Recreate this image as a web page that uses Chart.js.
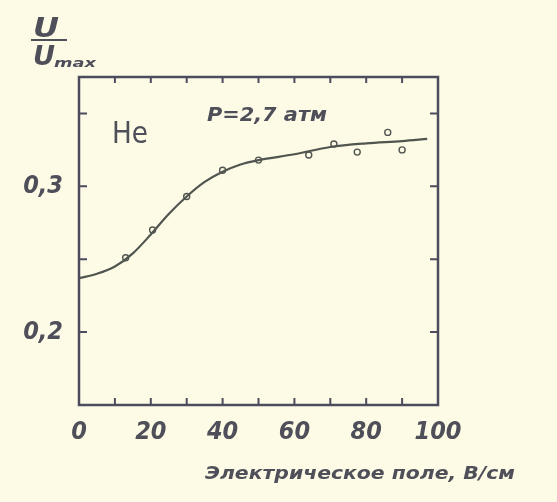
<!DOCTYPE html>
<html>
<head>
<meta charset="utf-8">
<script src="https://cdn.jsdelivr.net/npm/chart.js@4"></script>
<style>
  html, body { margin: 0; padding: 0; background: #fdfbe6; }
  #wrap { width: 557px; height: 502px; }
</style>
</head>
<body>
<div id="wrap"><canvas id="chart" width="557" height="502"></canvas></div>
<script>
// measured points (field, V/cm -> U/Umax)
const pointX = [13, 20.5, 30, 40, 50, 64, 71, 77.5, 86, 90];
const pointY = [0.251, 0.270, 0.293, 0.311, 0.318, 0.3215, 0.329, 0.3235, 0.337, 0.325];

// smooth fitted curve
const curveX = [0, 5, 10, 15, 20, 25, 30, 35, 40, 45, 50, 60, 70, 80, 90, 97];
const curveY = [0.237, 0.240, 0.245, 0.254, 0.267, 0.281, 0.293, 0.303, 0.310, 0.315, 0.318, 0.322, 0.327, 0.3295, 0.331, 0.3325];

// axis ticks
const xTicks = [0, 10, 20, 30, 40, 50, 60, 70, 80, 90, 100];
const xLabels = [0, 20, 40, 60, 80, 100];
const yTicks = [0.2, 0.25, 0.3, 0.35];
const yLabels = { "0.2": "0,2", "0.3": "0,3" };

const ink = "#4c4c5e";
const textInk = "#4f4f5a";
const paper = "#fdfbe6";
const digitFont = "'Liberation Sans Narrow', 'DejaVu Sans Condensed', sans-serif";

// squeeze text horizontally into a given width
function fitText(ctx, text, x, y, w) {
  const m = ctx.measureText(text).width;
  ctx.save();
  ctx.translate(x, y);
  ctx.scale(w / m, 1);
  ctx.fillText(text, 0, 0);
  ctx.restore();
}

// frame, inward ticks and the hand-lettered texts
const framePlugin = {
  id: "frame",
  afterDraw(chart) {
    const { ctx, chartArea: a, scales } = chart;
    ctx.save();
    ctx.strokeStyle = ink;
    ctx.lineWidth = 2.5;
    ctx.strokeRect(a.left, a.top, a.right - a.left, a.bottom - a.top);

    ctx.lineWidth = 2;
    ctx.beginPath();
    xTicks.slice(1, -1).forEach((v) => {
      const px = scales.x.getPixelForValue(v);
      ctx.moveTo(px, a.bottom); ctx.lineTo(px, a.bottom - 7);
      ctx.moveTo(px, a.top); ctx.lineTo(px, a.top + 6);
    });
    yTicks.forEach((v) => {
      const py = scales.y.getPixelForValue(v);
      ctx.moveTo(a.left, py); ctx.lineTo(a.left + 8, py);
      ctx.moveTo(a.right, py); ctx.lineTo(a.right - 8, py);
    });
    ctx.stroke();

    ctx.fillStyle = textInk;
    ctx.textBaseline = "alphabetic";
    ctx.textAlign = "left";

    // gas label
    ctx.font = "31px 'DejaVu Sans Condensed', sans-serif";
    fitText(ctx, "He", 112, 143, 36);

    // pressure
    ctx.font = "italic bold 19px " + digitFont;
    fitText(ctx, "Р=2,7 атм", 207, 121, 120);

    // y axis title as a fraction
    ctx.font = "italic bold 26px " + digitFont;
    fitText(ctx, "U", 33, 37, 26);
    fitText(ctx, "U", 33, 65, 22);
    ctx.font = "italic bold 12px " + digitFont;
    fitText(ctx, "max", 54, 67, 42);
    ctx.lineWidth = 2;
    ctx.strokeStyle = textInk;
    ctx.beginPath();
    ctx.moveTo(31, 40); ctx.lineTo(67, 40);
    ctx.stroke();

    // x axis title
    ctx.font = "italic bold 18px " + digitFont;
    fitText(ctx, "Электрическое поле, В/см", 205, 479, 310);
    ctx.restore();
  },
};

const ctx = document.getElementById("chart");

new Chart(ctx.getContext("2d"), {
  type: "scatter",
  data: {
    datasets: [
      {
        label: "curve",
        type: "line",
        data: curveX.map((x, i) => ({ x: x, y: curveY[i] })),
        borderColor: "#50554f",
        borderWidth: 2.2,
        pointRadius: 0,
        cubicInterpolationMode: "monotone",
        fill: false,
      },
      {
        label: "measured",
        data: pointX.map((x, i) => ({ x: x, y: pointY[i] })),
        borderColor: "#50554f",
        backgroundColor: paper,
        borderWidth: 1.4,
        pointRadius: 3,
      },
    ],
  },
  options: {
    responsive: false,
    animation: false,
    events: [],
    layout: { padding: { top: 77, right: 119, left: 0, bottom: 0 } },
    plugins: {
      legend: { display: false },
      tooltip: { enabled: false },
    },
    scales: {
      x: {
        type: "linear",
        min: 0,
        max: 100,
        afterFit: (s) => { s.height = 97; },
        afterBuildTicks: (s) => { s.ticks = xLabels.map((v) => ({ value: v })); },
        grid: { display: false, drawTicks: false },
        border: { display: false },
        ticks: {
          padding: 12,
          color: textInk,
          maxRotation: 0,
          font: { family: digitFont, size: 25, style: "italic", weight: "bold" },
        },
      },
      y: {
        type: "linear",
        min: 0.15,
        max: 0.375,
        afterFit: (s) => { s.width = 79; },
        afterBuildTicks: (s) => { s.ticks = Object.keys(yLabels).map((v) => ({ value: +v })); },
        grid: { display: false, drawTicks: false },
        border: { display: false },
        ticks: {
          padding: 16,
          color: textInk,
          callback: (v) => yLabels[String(v)] || "",
          font: { family: digitFont, size: 25, style: "italic", weight: "bold" },
        },
      },
    },
  },
  plugins: [framePlugin],
});
</script>
</body>
</html>
